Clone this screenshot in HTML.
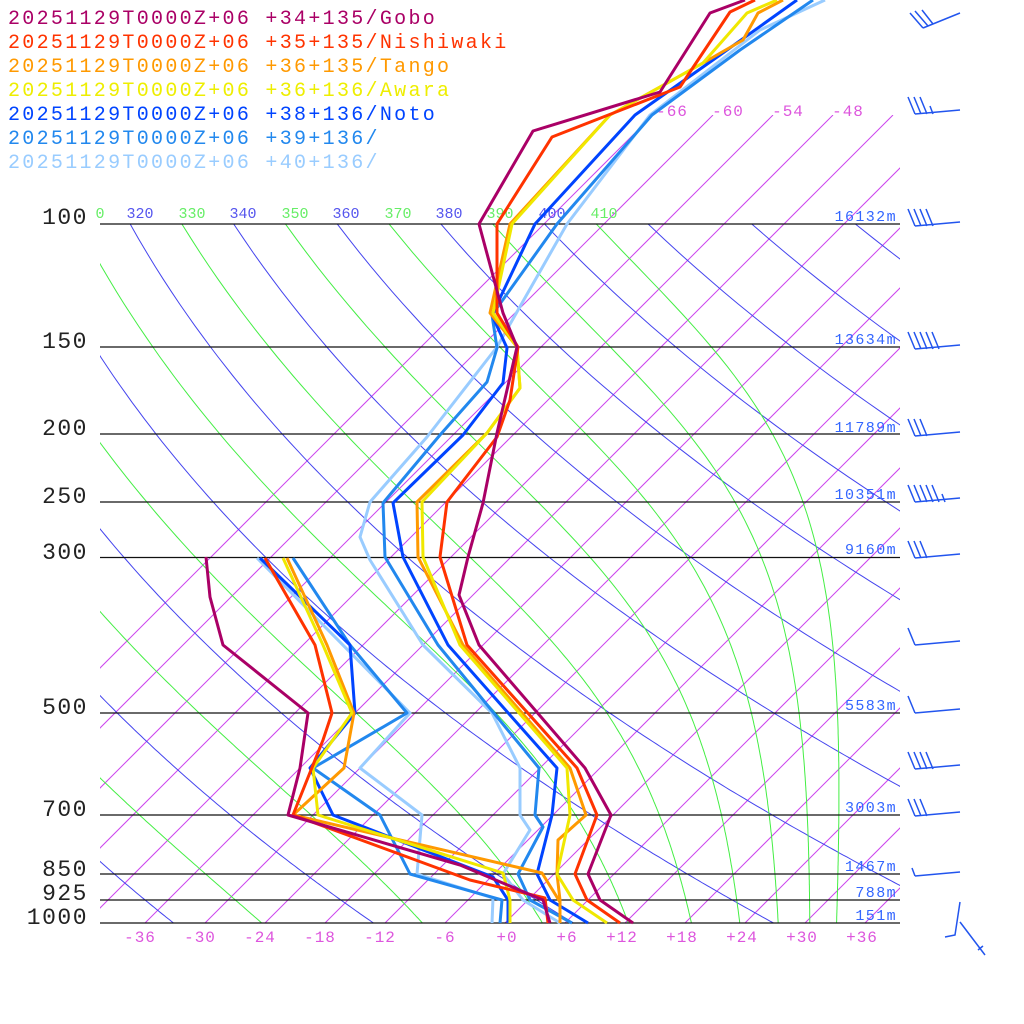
<!DOCTYPE html>
<html><head><meta charset="utf-8"><style>
html,body{margin:0;padding:0;background:#fff;}
svg{display:block;}
.leg{font-family:"Liberation Mono",monospace;font-size:20px;letter-spacing:2.3px;}
.pl{font-family:"Liberation Mono",monospace;font-size:23px;letter-spacing:1.5px;fill:#222;}
.hl{font-family:"Liberation Mono",monospace;font-size:15px;letter-spacing:1.4px;fill:#3366ff;}
.tl{font-family:"Liberation Mono",monospace;font-size:16px;letter-spacing:1px;fill:#dd55dd;}
.al{font-family:"Liberation Mono",monospace;font-size:15px;}
</style></head><body>
<svg id="s" width="1024" height="1024" viewBox="0 0 1024 1024" xmlns="http://www.w3.org/2000/svg">
<defs>
<clipPath id="ca"><rect x="100" y="224" width="800" height="699"/></clipPath>
<clipPath id="ci"><rect x="100" y="115" width="800" height="808"/></clipPath>
</defs>
<g id="iso" clip-path="url(#ci)" stroke="#cc44ee" stroke-width="1" fill="none"></g>
<g id="dry" clip-path="url(#ca)" stroke="#4444ee" stroke-width="1" fill="none"></g>
<g id="moist" clip-path="url(#ca)" stroke="#44ee44" stroke-width="1" fill="none"></g>
<g stroke="#111" stroke-width="1.3">
<line x1="100" y1="224" x2="900" y2="224"/><line x1="100" y1="347" x2="900" y2="347"/>
<line x1="100" y1="434" x2="900" y2="434"/><line x1="100" y1="502" x2="900" y2="502"/>
<line x1="100" y1="557.5" x2="900" y2="557.5"/><line x1="100" y1="713" x2="900" y2="713"/>
<line x1="100" y1="815" x2="900" y2="815"/><line x1="100" y1="874" x2="900" y2="874"/>
<line x1="100" y1="900" x2="900" y2="900"/><line x1="100" y1="923" x2="900" y2="923"/>
</g>
<g class="pl" text-anchor="end">
<text x="88" y="224">100</text><text x="88" y="348">150</text><text x="88" y="435">200</text>
<text x="88" y="503">250</text><text x="88" y="559">300</text><text x="88" y="714">500</text>
<text x="88" y="816">700</text><text x="88" y="876">850</text><text x="88" y="900">925</text>
<text x="88" y="924">1000</text>
</g>
<g class="hl" text-anchor="end">
<text x="897" y="221">16132m</text><text x="897" y="344">13634m</text><text x="897" y="432">11789m</text>
<text x="897" y="499">10351m</text><text x="897" y="554">9160m</text><text x="897" y="710">5583m</text>
<text x="897" y="812">3003m</text><text x="897" y="871">1467m</text><text x="897" y="897">788m</text>
<text x="897" y="920">151m</text>
</g>
<g class="tl" text-anchor="middle">
<text x="140" y="942">-36</text><text x="200" y="942">-30</text><text x="260" y="942">-24</text>
<text x="320" y="942">-18</text><text x="380" y="942">-12</text><text x="445" y="942">-6</text>
<text x="507" y="942">+0</text><text x="567" y="942">+6</text><text x="622" y="942">+12</text>
<text x="682" y="942">+18</text><text x="742" y="942">+24</text><text x="802" y="942">+30</text>
<text x="862" y="942">+36</text>
<text x="672" y="116">-66</text><text x="728" y="116">-60</text><text x="788" y="116">-54</text><text x="848" y="116">-48</text>
</g>
<g class="al" text-anchor="middle">
<text x="100" y="218" fill="#66ee66">0</text>
<text x="140" y="218" fill="#5555ee">320</text><text x="192" y="218" fill="#66ee66">330</text>
<text x="243" y="218" fill="#5555ee">340</text><text x="295" y="218" fill="#66ee66">350</text>
<text x="346" y="218" fill="#5555ee">360</text><text x="398" y="218" fill="#66ee66">370</text>
<text x="449" y="218" fill="#5555ee">380</text><text x="500" y="218" fill="#66ee66">390</text>
<text x="552" y="218" fill="#5555ee">400</text><text x="604" y="218" fill="#66ee66">410</text>
</g>
<g fill="none" stroke-width="3" stroke-linejoin="round">
<polyline stroke="#99ccff" points="825,0 760,30 650,115 567,224 497,347 427,437 370,502 360,537 370,560 423,645 492,713 520,768 520,815 530,830 503,874 523,900 560,923"/>
<polyline stroke="#99ccff" points="257,558 410,713 360,768 422,815 417,874 493,898 492,923"/>
<polyline stroke="#2288ee" points="813,0 740,50 652,115 557,224 492,315 497,348 487,382 440,435 383,503 385,557 438,645 539,768 535,815 543,827 518,874 530,900 572,923"/>
<polyline stroke="#2288ee" points="293,558 350,645 407,713 313,768 380,815 410,874 502,900 500,923"/>
<polyline stroke="#0044ff" points="797,0 720,55 635,115 535,224 492,315 507,348 503,383 463,435 393,503 403,557 448,645 557,768 552,815 537,874 550,900 588,923"/>
<polyline stroke="#0044ff" points="260,558 350,645 355,713 310,768 333,815 493,877 508,900 508,923"/>
<polyline stroke="#ff9900" points="783,0 758,13 743,40 703,63 610,115 510,224 490,313 517,347 520,388 487,433 417,502 418,557 463,645 570,768 586,815 558,840 557,874 560,900 560,923"/>
<polyline stroke="#ff9900" points="287,558 327,645 354,713 344,768 293,815 542,873 560,902"/>
<polyline stroke="#f0e800" points="777,0 747,13 703,63 610,115 512,224 493,313 517,347 520,388 487,433 422,502 423,557 460,645 567,768 570,815 557,874 573,900 607,923"/>
<polyline stroke="#f0e800" points="283,558 323,645 352,713 313,768 318,815 503,873 510,900 510,923"/>
<polyline stroke="#ff3300" points="755,0 730,12 680,87 552,137 497,224 497,313 518,347 510,400 497,437 447,502 440,557 467,645 577,768 597,815 575,874 587,900 620,923"/>
<polyline stroke="#ff3300" points="265,558 315,645 332,713 323,740 293,815 470,880 545,898 548,923"/>
<polyline stroke="#aa0066" points="745,0 710,13 660,92 533,131 479,224 503,313 517,347 497,433 483,503 468,557 459,595 479,645 585,768 611,815 588,874 600,900 633,923"/>
<polyline stroke="#aa0066" points="206,557 210,597 223,645 308,713 300,768 288,815 460,865 543,900 550,923"/>
</g>
<g id="barbs" stroke="#2255ee" stroke-width="1.5" fill="none"></g>
<g class="leg">
<text x="8" y="24" fill="#aa0066">20251129T0000Z+06 +34+135/Gobo</text>
<text x="8" y="48" fill="#ff3300">20251129T0000Z+06 +35+135/Nishiwaki</text>
<text x="8" y="72" fill="#ff9900">20251129T0000Z+06 +36+135/Tango</text>
<text x="8" y="96" fill="#eeee00">20251129T0000Z+06 +36+136/Awara</text>
<text x="8" y="120" fill="#0044ff">20251129T0000Z+06 +38+136/Noto</text>
<text x="8" y="144" fill="#2288ee">20251129T0000Z+06 +39+136/</text>
<text x="8" y="168" fill="#99ccff">20251129T0000Z+06 +40+136/</text>
</g>
</svg>
<script>
(function(){
var NS="http://www.w3.org/2000/svg";
function Y(p){return 923-303.6*Math.log(1000/p);}
function X(T,y){return 505+10*T+(923-y);}
function add(g,d){var e=document.createElementNS(NS,"path");e.setAttribute("d",d);document.getElementById(g).appendChild(e);}
for(var T=-66;T<=60;T+=6){
  var x1=X(T,923),x2=X(T,115);
  add("iso","M"+x1+" 923L"+x2+" 115");
}
for(var th=200;th<=460;th+=20){
  var d="";
  for(var p=1000;p>=95;p-=5){var y=Y(p);var t=th*Math.pow(p/1000,0.2857)-273.15;d+=(d?"L":"M")+X(t,y).toFixed(1)+" "+y.toFixed(1);}
  add("dry",d);
}
var Rd=287,cp=1005,Lv=2.5e6,eps=0.622;
for(var te=230;te<=410;te+=20){
  var T=te*Math.pow(0.1,0.2857),p=100,d="";
  var y=Y(p);d="M"+X(T-273.15,y).toFixed(1)+" "+y.toFixed(1);
  while(p<1000){
    var dp=1;
    var es=6.112*Math.exp(17.67*(T-273.15)/(T-29.65));
    var rs=eps*es/(p-es);
    var dTdp=(Rd*T+Lv*rs)/(p*(cp+Lv*Lv*rs*eps/(Rd*T*T)));
    T+=dTdp*dp;p+=dp;
    if(p%5==0){y=Y(p);d+="L"+X(T-273.15,y).toFixed(1)+" "+y.toFixed(1);}
  }
  add("moist",d);
}
var barbs=[[112,3,1],[224,4,0],[347,5,0],[434,3,0],[500,5,1],[556,3,0],[643,1,0],[711,1,0],[767,4,0],[814,3,0],[874,0,1]];
barbs.forEach(function(b){
  var y=b[0],d="M915 "+(y+2)+"L960 "+(y-2);
  var x=915;
  for(var i=0;i<b[1];i++){d+="M"+(x+i*6)+" "+(y+2)+"l-7 -17";}
  if(b[2]){var xx=x+b[1]*6;d+="M"+xx+" "+(y+2)+"l-3 -8";}
  add("barbs",d);
});
add("barbs","M923 28L960 13M923 28L910 13M928 26L915 11M933 24L922 10");
add("barbs","M960 902L955 935L945 937M960 922L985 955M978 950l5 -4");
})();
</script>
</body></html>
